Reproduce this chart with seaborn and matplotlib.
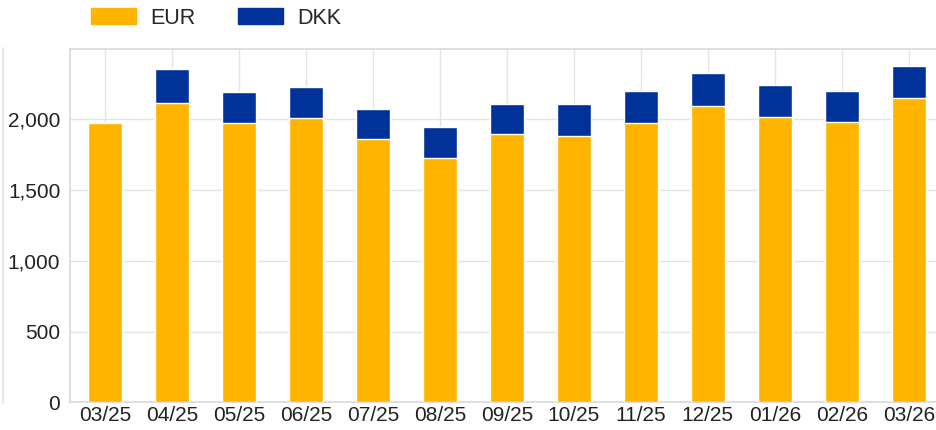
import pandas as pd
import matplotlib.pyplot as plt
import seaborn as sns
from matplotlib.patches import Patch
from matplotlib.lines import Line2D

# Data
months = ['03/25', '04/25', '05/25', '06/25', '07/25', '08/25', '09/25',
          '10/25', '11/25', '12/25', '01/26', '02/26', '03/26']
eur = [1975, 2115, 1975, 2010, 1860, 1730, 1895, 1885, 1975, 2095, 2015, 1980, 2155]
dkk = [0, 245, 220, 220, 215, 215, 215, 225, 225, 230, 225, 220, 225]

eur_color = '#FFB400'
dkk_color = '#003299'

sns.set_style('white')
plt.rcParams['font.family'] = ['Liberation Sans', 'DejaVu Sans']

df = pd.DataFrame({'month': months, 'EUR': eur, 'DKK': dkk})
df['total'] = df['EUR'] + df['DKK']

fig = plt.figure(figsize=(9.37, 4.30), dpi=100)
ax = fig.add_axes([0.0747, 0.0644, 0.9324, 0.8223])

# Stacked bars: total in blue, EUR drawn over it
sns.barplot(data=df, x='month', y='total', color=dkk_color, width=0.5,
            saturation=1, ax=ax, zorder=3)
sns.barplot(data=df, x='month', y='EUR', color=eur_color, width=0.5,
            saturation=1, ax=ax, zorder=3)

ax.set_xlim(-0.52, 12.52)
ax.set_ylim(0, 2500)
ax.set_yticks([0, 500, 1000, 1500, 2000])
ax.yaxis.set_major_formatter(plt.FuncFormatter(lambda v, p: f'{v:,.0f}'))
ax.set_xlabel('')
ax.set_ylabel('')

ax.grid(True, color='#e4e4e4', linewidth=1, zorder=0)
for s in ['left', 'bottom', 'top']:
    ax.spines[s].set_color('#d9d9d9')
    ax.spines[s].set_linewidth(1.2)
ax.spines['right'].set_visible(False)
ax.tick_params(axis='both', length=0, labelsize=15, colors='#222222')
ax.tick_params(axis='y', pad=7)
ax.tick_params(axis='x', pad=3)

handles = [Patch(color=eur_color, label='EUR'), Patch(color=dkk_color, label='DKK')]
fig.legend(handles=handles, loc='center left', bbox_to_anchor=(0.076, 0.958),
           ncol=2, frameon=False, fontsize=15.5, handlelength=2.1,
           handleheight=0.72, handletextpad=0.65, columnspacing=2.0)

# faint line at the far left edge
fig.add_artist(Line2D([0.003, 0.003], [0.063, 0.888], color='#e0e0e0', linewidth=1.2))

plt.savefig('out.png', dpi=100)
plt.close()
